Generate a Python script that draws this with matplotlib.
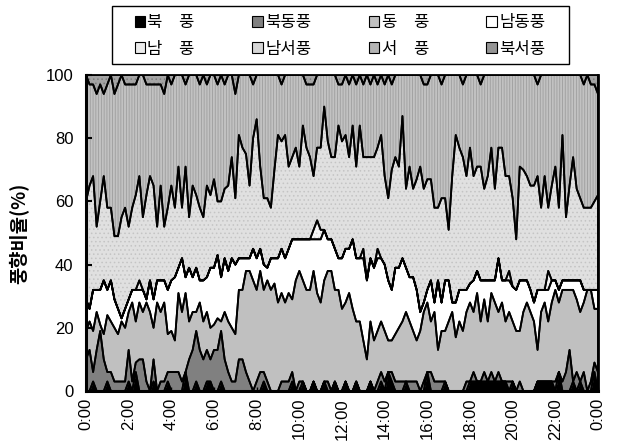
import matplotlib
matplotlib.use("Agg")
import matplotlib.pyplot as plt
from matplotlib.patches import Patch, Rectangle
import numpy as np

plt.rcParams['font.family'] = ['Liberation Sans', 'Noto Sans CJK KR', 'DejaVu Sans']
plt.rcParams['hatch.linewidth'] = 0.6

# 10-minute steps over one day (0:00 .. 24:00)
time_labels = ["0:00", "2:00", "4:00", "6:00", "8:00", "10:00", "12:00",
               "14:00", "16:00", "18:00", "20:00", "22:00", "0:00"]
series_names = ["북　풍", "북동풍", "동　풍", "남동풍", "남　풍", "남서풍", "서　풍", "북서풍"]

north = [0,0,3,0,0,0,3,0,0,0, 0,0,3,0,6,0,0,0,0,3, 0,0,0,3,0,0,0,0,6,0,
         0,3,0,0,3,3,0,0,3,0, 0,0,0,0,0,0,0,0,0,0, 3,0,0,0,0,0,0,0,3,0,
         0,3,0,0,3,0,0,3,0,0, 3,0,0,3,0,0,3,0,0,0, 3,0,0,3,0,6,3,0,0,0,
         3,0,0,0,0,0,6,0,0,0, 0,3,0,0,0,0,0,0,3,3, 3,3,3,3,3,3,3,3,3,0,
         3,0,0,0,0,0,0,3,3,3, 3,3,0,6,0,0,0,3,0,3, 0,0,0,6,0]
northeast = [10,13,3,13,19,10,3,6,3,3, 3,3,10,3,3,10,10,3,0,7, 0,3,3,3,6,6,6,3,0,10,
             13,16,13,10,10,7,13,13,16,10, 6,3,3,10,10,6,3,0,3,6, 3,3,0,0,0,3,3,3,3,0,
             3,0,0,0,0,0,0,0,3,0, 0,0,0,0,0,0,0,0,0,0, 0,0,3,3,3,0,3,3,3,3,
             0,3,3,3,0,3,0,6,3,3, 3,0,0,0,0,0,0,3,0,3, 0,0,3,0,3,0,3,0,0,3,
             0,0,3,0,0,0,0,0,0,0, 0,0,3,0,3,6,13,0,6,0, 6,0,3,3,6]
east = [9,9,13,12,2,8,18,16,17,15, 19,17,12,25,13,18,15,25,25,10, 28,22,25,12,13,10,25,22,25,12,
        12,6,15,12,12,10,8,10,3,15, 16,17,15,22,22,32,35,35,29,32, 26,32,32,34,28,28,25,28,23,35,
        35,32,32,32,35,31,28,32,35,38, 29,32,26,25,31,26,19,22,16,10, 19,16,16,16,16,10,10,15,17,19,
        22,19,16,13,19,22,22,16,22,10, 16,16,22,25,17,22,19,22,25,19, 28,19,23,19,25,25,19,25,19,22,
        19,19,16,25,28,25,22,10,22,25, 19,25,29,22,29,26,19,29,23,22, 22,32,29,17,20]
southeast = [10,4,13,7,11,17,8,13,9,8, 1,6,4,4,10,4,7,1,10,9, 7,10,7,14,16,20,8,17,5,17,
             11,14,7,13,11,19,18,20,14,17, 16,22,22,10,10,4,4,10,10,7, 8,4,10,8,14,14,14,14,19,13,
             10,13,16,16,10,17,20,16,10,10, 13,10,16,17,14,22,20,20,26,25, 20,23,23,20,21,19,16,21,19,20,
             14,14,17,16,6,3,4,13,3,22, 9,16,13,3,11,10,13,7,6,10, 7,13,6,13,4,7,17,7,13,10,
             11,13,16,10,7,7,6,19,7,4, 10,7,3,4,3,3,3,3,6,10, 4,0,0,6,6]
south = [0,0,0,0,0,0,0,0,0,0, 0,0,0,0,0,3,0,0,0,0, 0,0,0,0,0,0,0,0,0,0,
         0,0,0,0,0,0,0,0,0,0, 0,0,0,0,0,0,0,0,0,0, 0,0,0,0,0,0,0,0,0,0,
         0,0,0,0,3,6,3,0,0,0, 0,0,0,0,0,0,0,0,3,0, 0,0,3,0,0,0,0,0,0,0,
         0,0,0,0,0,0,0,0,0,0, 0,0,0,0,0,0,0,0,0,0, 0,0,0,0,0,0,0,0,0,3,
         0,0,0,0,0,0,0,0,0,0, 6,0,0,0,0,0,0,0,0,0, 0,0,0,0,0]
southwest = [31,39,36,20,28,33,26,23,20,23, 32,32,23,26,30,33,23,33,33,36, 17,30,17,26,30,22,32,16,35,16,
             29,23,23,20,29,23,28,17,24,22, 27,32,21,39,35,33,23,35,44,26, 21,22,16,28,39,34,39,26,26,29,
             23,36,29,26,17,23,26,39,31,26, 29,42,37,36,29,36,29,42,29,39, 32,35,32,39,28,26,38,35,32,45,
             25,35,28,35,46,36,35,32,30,23, 33,26,16,40,53,45,42,36,43,33, 33,36,29,33,42,29,35,42,33,30,
             28,16,36,35,33,33,37,36,26,36, 20,30,36,26,46,20,30,39,29,26, 26,26,26,28,30]
west = [40,32,29,42,37,26,39,42,45,48, 45,39,45,39,35,32,45,35,29,32, 45,32,42,42,32,42,29,42,26,45,
        35,38,39,45,32,38,33,37,40,33, 35,26,33,19,23,25,35,17,14,29, 39,39,42,30,19,18,19,29,26,23,
        29,16,20,23,29,23,23,10,21,26, 26,13,18,19,23,16,26,16,23,26, 23,26,20,19,29,39,27,26,29,13,
        36,29,36,33,29,33,30,33,42,42, 36,39,49,32,19,23,23,32,23,32, 29,26,36,32,23,36,23,23,32,32,
        39,52,29,30,32,35,35,29,42,32, 42,35,29,42,19,45,35,26,36,39, 39,42,39,37,32]
northwest = [0,3,3,6,3,6,3,0,6,3, 0,3,3,3,3,0,0,3,3,3, 3,3,6,0,3,0,0,0,3,0,
             0,0,3,0,3,0,0,3,0,3, 0,0,6,0,0,0,0,3,0,0, 0,0,0,0,0,3,0,0,0,0,
             0,0,3,3,3,0,0,0,0,0, 0,3,3,0,3,0,3,0,3,0, 3,0,3,0,3,0,3,0,0,0,
             0,0,0,0,0,3,3,0,0,0, 3,0,0,0,0,0,3,0,0,0, 0,3,0,0,0,0,0,0,0,0,
             0,0,0,0,0,0,0,3,0,0, 0,0,0,0,0,0,0,0,0,0, 3,0,3,3,6]

series = [north, northeast, east, southeast, south, southwest, west, northwest]
face_colors = ["#000000", "#808080", "#c0c0c0", "#ffffff", "#f6f6f6", "#e0e0e0", "#c2c2c2", "#a4a4a4"]
hatches = [None, None, None, None, "....", "....", "||||||", "...."]
hatch_colors = ["#000000", "#808080", "#c0c0c0", "#ffffff", "#d4d4d4", "#c4c4c4", "#9e9e9e", "#7c7c7c"]
legend_colors = ["#000000", "#808080", "#c0c0c0", "#ffffff", "#ececec", "#d6d6d6", "#b4b4b4", "#959595"]

x = np.arange(len(north))

fig = plt.figure(figsize=(6.19, 4.48), dpi=100)
ax = fig.add_axes([86/619, 1-391/448, 512/619, 316/448])

# textured fills of each stacked layer
tops = np.cumsum(np.vstack(series), axis=0)
bottoms = np.vstack([np.zeros(len(x)), tops[:-1]])
for k in range(len(series)):
    ax.fill_between(x, bottoms[k], tops[k], facecolor=face_colors[k],
                    hatch=hatches[k], edgecolor=hatch_colors[k], linewidth=0)
# black outlines of each stacked area
ax.stackplot(x, *series, colors=['none'] * len(series), edgecolor="black", linewidth=1.3)

ax.set_xlim(0, len(north) - 1)
ax.set_ylim(0, 100)
ax.set_xticks(np.arange(0, len(north), 12))
ax.set_xticklabels(time_labels, rotation=90, fontsize=12)
ax.set_yticks([0, 20, 40, 60, 80, 100])
ax.tick_params(axis='y', direction='in', length=4, width=1.5, pad=9, labelsize=12)
ax.tick_params(axis='x', direction='in', length=3, width=1.0, pad=5)
for s in ax.spines.values():
    s.set_linewidth(1.3)
ax.spines['left'].set_linewidth(2.2)
ax.spines['bottom'].set_linewidth(2.2)
ax.spines['right'].set_linewidth(2.0)

ax.set_ylabel("풍향비율(%)", family=['Noto Sans CJK KR', 'DejaVu Sans'],
              fontsize=13.5, fontweight='bold')
ax.yaxis.set_label_coords((29 - 86) / 512, 0.5)

# legend box
fig.patches.append(Rectangle((112/619, 1-64/448), 457/619, 58/448, transform=fig.transFigure,
                             facecolor='white', edgecolor='black', linewidth=1.0, zorder=0))
handles = [Patch(facecolor=legend_colors[k], edgecolor='black', linewidth=0.8)
           for k in range(len(series))]
order = [0, 4, 1, 5, 2, 6, 3, 7]
leg = fig.legend([handles[i] for i in order], [series_names[i] for i in order],
                 ncol=4, loc='center', bbox_to_anchor=(340/619, 1-36/448),
                 bbox_transform=fig.transFigure,
                 prop={'family': ['Noto Sans CJK KR', 'DejaVu Sans'], 'size': 12},
                 frameon=False, handlelength=0.62, handleheight=0.62, handletextpad=0.15,
                 columnspacing=3.45, labelspacing=0.55, borderpad=0)

fig.savefig("out.png", dpi=100)
